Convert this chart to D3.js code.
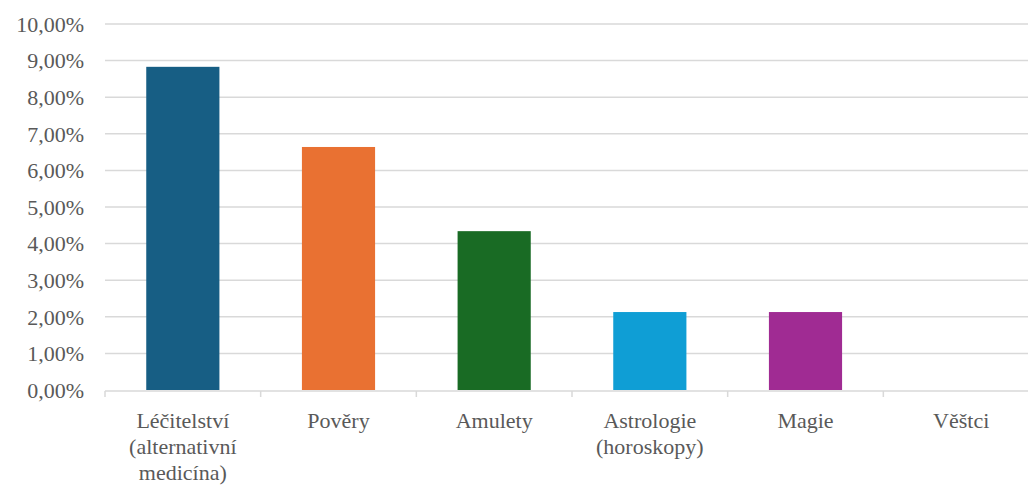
<!DOCTYPE html>
<html>
<head>
<meta charset="utf-8">
<script src="https://cdn.jsdelivr.net/npm/d3@7"></script>
<style>
  body { margin: 0; background: #fff; }
  #chart { width: 1028px; height: 485px; overflow: hidden; }
</style>
</head>
<body>
<div id="chart"></div>
<script>
// data
const categories = [
  ["Léčitelství", "(alternativní", "medicína)"],
  ["Pověry"],
  ["Amulety"],
  ["Astrologie", "(horoskopy)"],
  ["Magie"],
  ["Věštci"]
];
const values = [0.0883, 0.0664, 0.0434, 0.0213, 0.0213, 0];
const colors = ["#175E84", "#E97132", "#196B24", "#0F9ED5", "#A02B93", "#7F7F7F"];
const yTicks = [0, 0.01, 0.02, 0.03, 0.04, 0.05, 0.06, 0.07, 0.08, 0.09, 0.10];

const width = 1028, height = 485;
const margin = { left: 105, top: 24, bottom: 95 };
const plotRight = 1039; // chart is cut off on the right
const fontFamily = "'Liberation Serif', 'Times New Roman', Times, serif";

const svg = d3.select("#chart")
  .append("svg")
  .attr("width", width)
  .attr("height", height)
  .attr("font-family", fontFamily);

const x = d3.scaleBand()
  .domain(d3.range(categories.length))
  .range([margin.left, plotRight])
  .paddingInner(0.53)
  .paddingOuter(0.265);

const y = d3.scaleLinear()
  .domain([0, 0.10])
  .range([height - margin.bottom, margin.top]);

const fmt = (d) => (d * 100).toFixed(2).replace(".", ",") + "%";

// Gridlines
svg.append("g")
  .selectAll("line")
  .data(yTicks.slice(1))
  .enter()
  .append("line")
  .attr("x1", margin.left)
  .attr("x2", plotRight)
  .attr("y1", (d) => y(d))
  .attr("y2", (d) => y(d))
  .attr("stroke", "#d9d9d9")
  .attr("stroke-width", 1.5);

// Y labels
svg.append("g")
  .selectAll("text")
  .data(yTicks)
  .enter()
  .append("text")
  .attr("x", 84)
  .attr("y", (d) => y(d))
  .attr("dy", "0.35em")
  .attr("text-anchor", "end")
  .attr("fill", "#595959")
  .style("font-family", fontFamily)
  .style("font-size", "22px")
  .text(fmt);

// Bars
svg.append("g")
  .selectAll("rect")
  .data(values)
  .enter()
  .append("rect")
  .attr("x", (d, i) => x(i))
  .attr("y", (d) => y(d))
  .attr("width", x.bandwidth())
  .attr("height", (d) => y(0) - y(d))
  .attr("fill", (d, i) => colors[i]);

// X axis line and ticks
const y0 = y(0) + 1;
svg.append("line")
  .attr("x1", margin.left)
  .attr("x2", plotRight)
  .attr("y1", y0)
  .attr("y2", y0)
  .attr("stroke", "#d9d9d9")
  .attr("stroke-width", 1.5);

const step = x.step();
const tickXs = d3.range(categories.length + 1).map((i) => margin.left + i * step);
svg.append("g")
  .selectAll("line")
  .data(tickXs)
  .enter()
  .append("line")
  .attr("x1", (d) => d)
  .attr("x2", (d) => d)
  .attr("y1", y0)
  .attr("y2", y0 + 6)
  .attr("stroke", "#d9d9d9")
  .attr("stroke-width", 1.5);

// Category labels
svg.append("g")
  .selectAll("text")
  .data(categories)
  .enter()
  .append("text")
  .attr("text-anchor", "middle")
  .attr("fill", "#595959")
  .style("font-family", fontFamily)
  .style("font-size", "22px")
  .each(function (d, i) {
    const t = d3.select(this);
    const cx = x(i) + x.bandwidth() / 2;
    d.forEach((line, j) => {
      t.append("tspan")
        .attr("x", cx)
        .attr("y", 428 + j * 26)
        .text(line);
    });
  });
</script>
</body>
</html>
